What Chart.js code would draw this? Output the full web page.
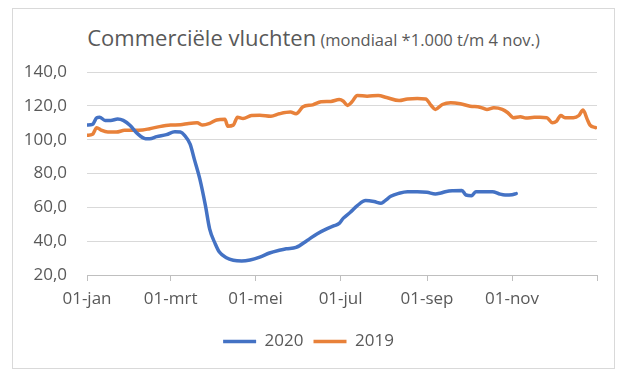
<!DOCTYPE html>
<html>
<head>
<meta charset="utf-8">
<script src="https://cdn.jsdelivr.net/npm/chart.js@4/dist/chart.umd.min.js"></script>
<style>
  html, body { margin:0; padding:0; background:#fff; }
  #wrap { position:relative; width:625px; height:378px; }
  #frame { position:absolute; left:12px; top:8px; width:603px; height:361px; border:1px solid #d9d9d9; box-sizing:border-box; }
  #title { position:absolute; left:12px; width:603px; top:22px; text-align:center; color:#595959; font-family:"Open Sans", sans-serif; white-space:nowrap; }
  #title .main { font-size:22px; }
  #title .sub { font-size:16.5px; }
  canvas { position:absolute; left:0; top:0; }
</style>
</head>
<body>
<div id="wrap">
  <div id="frame"></div>
  <div id="title"><span class="main">Commerciële vluchten</span> <span class="sub">(mondiaal *1.000 t/m 4 nov.)</span></div>
  <canvas id="chart" width="625" height="378"></canvas>
</div>
<script>
// x-as: dagnummer vanaf 1 januari
const tickDays = [0, 60, 121, 182, 244, 305, 366];
const tickLabels = ['01-jan', '01-mrt', '01-mei', '01-jul', '01-sep', '01-nov', ''];

// 2020 (t/m 4 nov.)
const days2020 = [0, 4, 7, 9, 13, 17, 22, 26, 31, 36, 42, 45, 50, 57, 63, 67, 70, 74, 77, 81,
  85, 88, 92, 95, 100, 105, 111, 117, 124, 131, 138, 143, 150, 158, 165, 172, 177, 181, 184, 189,
  194, 200, 206, 211, 214, 218, 224, 230, 237, 244, 250, 254, 258, 263, 269, 272, 276, 279, 285, 291,
  296, 300, 305, 308];
const values2020 = [108.6, 109, 113, 113.3, 111.4, 111.4, 112.2, 111.4, 108.4, 103.7, 100.6, 100.6, 101.8, 103, 104.7, 104.5, 102.6, 97.3, 88.5, 76.7,
  61, 47.3, 38.5, 33.6, 30.2, 28.7, 28.3, 28.9, 30.6, 33, 34.6, 35.5, 36.3, 40.4, 44.3, 47.3, 49, 50.5, 53.6, 57.1,
  61, 64, 63.4, 62.4, 64, 66.5, 68.3, 69.2, 69.2, 68.9, 67.9, 68.5, 69.4, 69.8, 70, 67.3, 66.9, 69.2, 69.2, 69.2,
  67.9, 67.3, 67.5, 68.1];

// 2019 (heel jaar)
const days2019 = [0, 4, 7, 10, 15, 21, 27, 33, 40, 45, 52, 60, 67, 73, 79, 83, 88, 93, 99, 101,
  105, 108, 112, 118, 124, 132, 138, 146, 150, 155, 162, 168, 175, 181, 184, 187, 190, 194, 201, 209,
  215, 224, 230, 237, 243, 247, 250, 255, 261, 268, 275, 282, 287, 292, 298, 302, 306, 311, 315, 321,
  325, 330, 334, 337, 340, 343, 349, 353, 356, 359, 361, 365];
const values2019 = [102.6, 103.2, 107.1, 105.7, 104.5, 104.5, 105.5, 105.5, 105.7, 106.5, 107.7, 108.6, 108.8, 109.6, 110, 108.6, 109.6, 111.6, 112, 108,
  108.6, 113.3, 112.5, 114.3, 114.5, 113.9, 115.3, 116.3, 115.3, 119.4, 120.6, 122.4, 122.6, 123.7, 122.7, 120.2, 122.2, 126.1, 125.7, 126.1,
  124.9, 123.1, 124.1, 124.3, 124.1, 120.2, 117.9, 120.8, 121.8, 121.2, 119.8, 119.2, 117.9, 118.8, 117.9, 115.9, 113, 113.6, 112.8, 113.2,
  113.2, 113, 110, 111, 114.3, 113, 113, 114.3, 117.5, 112, 108.6, 107.1];

const toPoints = (xs, ys) => xs.map((x, i) => ({ x, y: ys[i] }));
const grey = '#595959';
const tickFont = { family: '"Open Sans", sans-serif', size: 17 };

new Chart(document.getElementById('chart'), {
  type: 'line',
  data: {
    datasets: [
      { label: '2020', data: toPoints(days2020, values2020), borderColor: '#4472C4', backgroundColor: '#4472C4', borderWidth: 3.5 },
      { label: '2019', data: toPoints(days2019, values2019), borderColor: '#E8813A', backgroundColor: '#E8813A', borderWidth: 3.5 }
    ]
  },
  options: {
    responsive: false,
    animation: false,
    layout: { padding: { left: 20, right: 28, top: 72, bottom: 18 } },
    elements: {
      point: { radius: 0 },
      line: { cubicInterpolationMode: 'monotone', borderCapStyle: 'round', borderJoinStyle: 'round' }
    },
    plugins: {
      title: { display: false },
      tooltip: { enabled: false },
      legend: {
        position: 'bottom',
        labels: { usePointStyle: true, pointStyle: 'line', pointStyleWidth: 33, color: grey, font: tickFont, padding: 10 }
      }
    },
    scales: {
      x: {
        type: 'linear', min: 0, max: 366,
        afterBuildTicks: s => { s.ticks = tickDays.map(v => ({ value: v })); },
        afterFit: s => { s.height = 48; },
        ticks: { color: grey, font: tickFont, padding: 8, maxRotation: 0, autoSkip: false,
          callback: v => tickLabels[tickDays.indexOf(v)] },
        grid: { drawOnChartArea: false, drawTicks: true, tickLength: 6, color: '#bfbfbf' },
        border: { display: true, color: '#bfbfbf' }
      },
      y: {
        min: 20, max: 140,
        afterFit: s => { s.width = 67; },
        ticks: { stepSize: 20, color: grey, font: tickFont, padding: 20,
          callback: v => v.toFixed(1).replace('.', ',') },
        grid: { color: '#d9d9d9', drawTicks: false },
        border: { display: false }
      }
    }
  }
});
</script>
</body>
</html>
